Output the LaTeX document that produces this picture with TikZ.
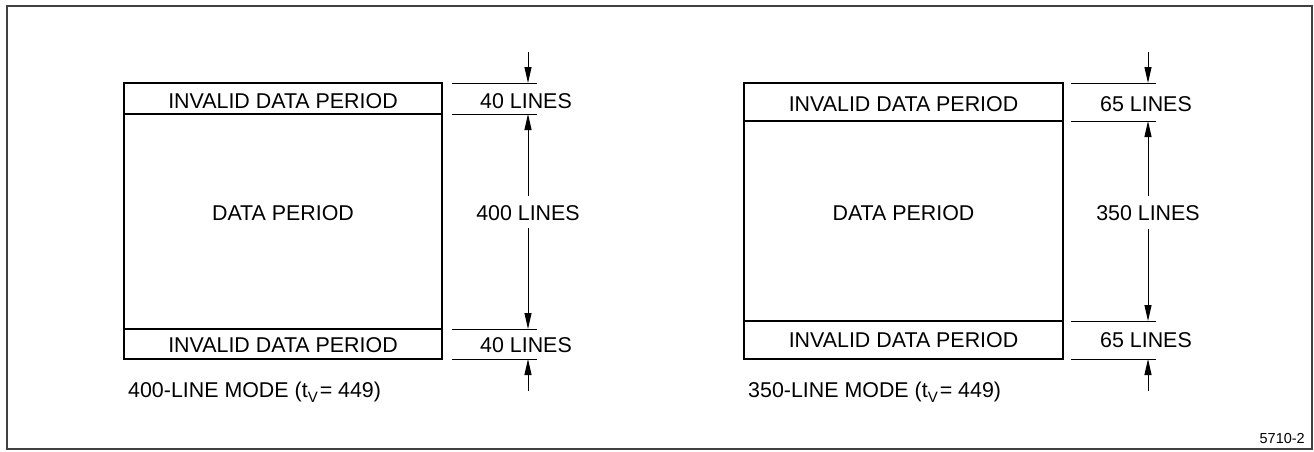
\documentclass[tikz,border=0pt]{standalone}
\usepackage{fontspec}
\setmainfont{Liberation Sans}
\usetikzlibrary{arrows.meta}
\newcommand{\subV}{\raisebox{-0.5ex}{\fontsize{15}{16}\selectfont V}\kern2pt}
\begin{document}
\begin{tikzpicture}[x=1pt,y=-1pt,
  lbl/.style={anchor=base,inner sep=0pt,font=\fontsize{21.4}{24}\selectfont},
  outline/.style={line width=2.6pt},
  divider/.style={line width=1.3pt},
  dimline/.style={line width=1pt},
  dimarrow/.style={line width=1pt,-{Triangle[length=16pt,width=7pt]}}]
\useasboundingbox (0,0) rectangle (1314,451);
\draw[line width=1.3pt,black!75] (7,6) rectangle (1312,449);

% ---------- left diagram ----------
\coordinate (L1) at (124,83);  \coordinate (L2) at (442,359);
\draw[divider] (124,114) -- (442,114);
\draw[divider] (124,329) -- (442,329);
\draw[outline] (L1) rectangle (L2);
\node[lbl] (linvt) at (283,108) {INVALID DATA PERIOD};
\node[lbl] (ldata) at (283,220) {DATA PERIOD};
\node[lbl] (linvb) at (283,352) {INVALID DATA PERIOD};
\node[lbl,anchor=base west] (lmode) at (128,397) {400-LINE MODE (t\subV{}= 449)};

\foreach \y in {83,114,329,359} \draw[dimline] (452,\y) -- (537,\y);
\coordinate (la0) at (528,52);  \coordinate (la1) at (528,83);
\coordinate (la2) at (528,114); \coordinate (la3) at (528,329);
\coordinate (la4) at (528,359); \coordinate (la5) at (528,391);
\node[lbl] (l40t) at (526,108) {40 LINES};
\node[lbl] (l400) at (528,220) {400 LINES};
\node[lbl] (l40b) at (526,352) {40 LINES};
\draw[dimarrow] (la0) -- (la1);
\draw[dimarrow] (528,196) -- (la2);
\draw[dimarrow] (528,228) -- (la3);
\draw[dimarrow] (la5) -- (la4);

% ---------- right diagram ----------
\coordinate (R1) at (744,83);  \coordinate (R2) at (1063,359);
\draw[divider] (744,121) -- (1063,121);
\draw[divider] (744,321) -- (1063,321);
\draw[outline] (R1) rectangle (R2);
\node[lbl] (rinvt) at (903.5,111.5) {INVALID DATA PERIOD};
\node[lbl] (rdata) at (903.5,220) {DATA PERIOD};
\node[lbl] (rinvb) at (903.5,347) {INVALID DATA PERIOD};
\node[lbl,anchor=base west] (rmode) at (748,397) {350-LINE MODE (t\subV{}= 449)};

\foreach \y in {83,121,321,359} \draw[dimline] (1071,\y) -- (1156,\y);
\coordinate (ra0) at (1148,52);  \coordinate (ra1) at (1148,83);
\coordinate (ra2) at (1148,121); \coordinate (ra3) at (1148,321);
\coordinate (ra4) at (1148,359); \coordinate (ra5) at (1148,391);
\node[lbl] (r65t) at (1146,111.5) {65 LINES};
\node[lbl] (r350) at (1148,220) {350 LINES};
\node[lbl] (r65b) at (1146,347) {65 LINES};
\draw[dimarrow] (ra0) -- (ra1);
\draw[dimarrow] (1148,196) -- (ra2);
\draw[dimarrow] (1148,229) -- (ra3);
\draw[dimarrow] (ra5) -- (ra4);

\node[anchor=base east,inner sep=0pt,font=\fontsize{14.5}{16}\selectfont] (fig) at (1305,443) {5710-2};
\end{tikzpicture}
\end{document}
